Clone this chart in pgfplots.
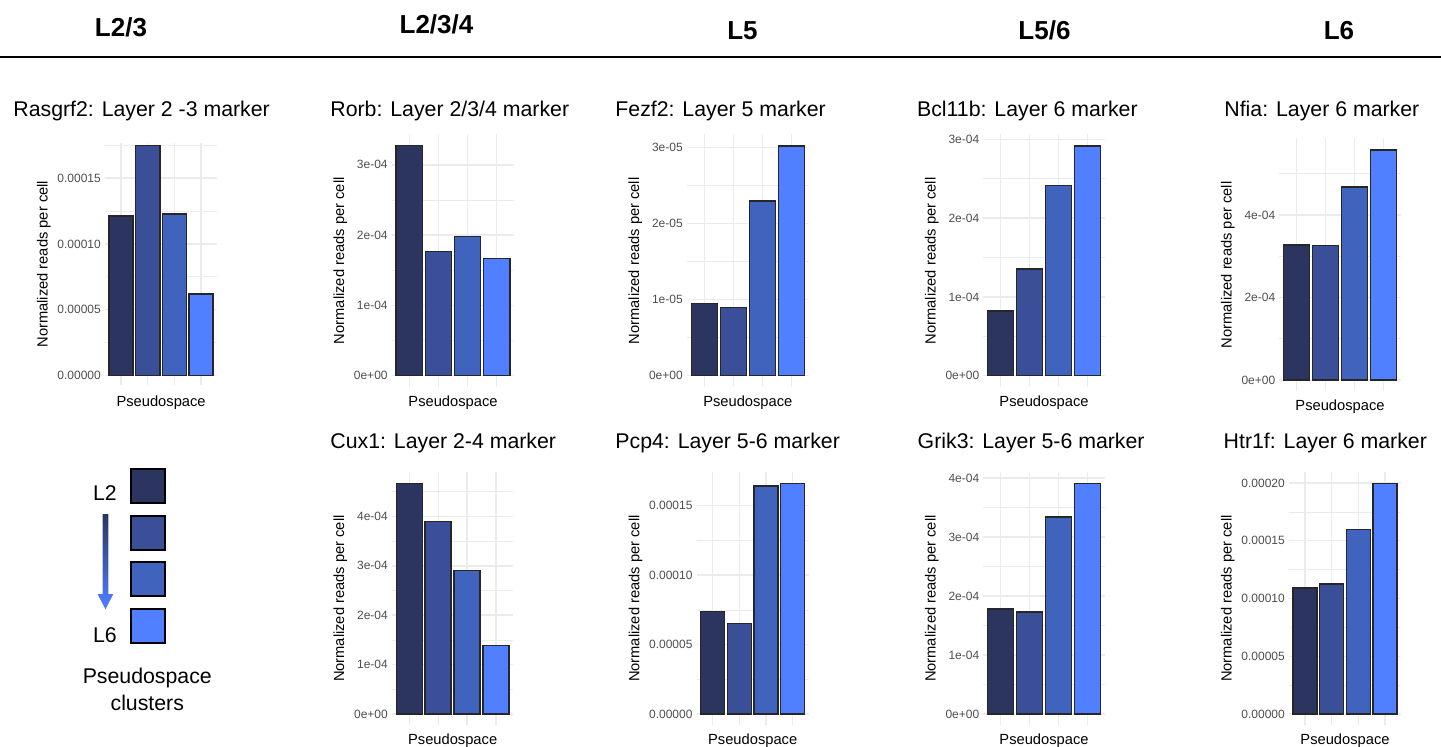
\documentclass[border=0pt]{standalone}
\usepackage{pgfplots}
\pgfplotsset{compat=1.18}
\usepackage{fontspec}
\setmainfont{Liberation Sans}
\definecolor{c1}{HTML}{2C3460}
\definecolor{c2}{HTML}{3B4F99}
\definecolor{c3}{HTML}{4064BE}
\definecolor{c4}{HTML}{5080FF}
\definecolor{tickgray}{HTML}{4D4D4D}
\definecolor{gridc}{HTML}{EBEBEB}
\newcommand{\ttlfont}{\fontsize{10.65}{12}\selectfont}
\newcommand{\hdrfont}{\fontsize{13}{15}\selectfont\bfseries}
\pgfplotsset{
 panel/.style={
   scale only axis, anchor=south west, xmin=0.4, xmax=4.6,
   axis line style={draw=none}, tick style={draw=none},
   xtick={1,2,3,4}, xticklabels={},
   xmajorgrids, ymajorgrids, yminorgrids,
   major grid style={draw=gridc, line width=0.7pt},
   minor grid style={draw=gridc, line width=0.35pt},
   scaled y ticks=false,
   yticklabel style={font=\fontsize{6}{7}\selectfont, text=tickgray, inner sep=0pt, xshift=-1.9pt},
   xlabel={Pseudospace}, ylabel={Normalized reads per cell},
   label style={font=\fontsize{7.35}{8.5}\selectfont},
   xlabel style={at={(axis description cs:0.5,0)}, anchor=base, inner sep=0pt, yshift=#1},
   ylabel style={at={(ticklabel cs:0.5,3.2pt)}, anchor=south, inner sep=0pt},
 },
 gbar/.style={ybar, bar width=0.9, bar shift=0pt, draw=black!85, line width=0.75pt, fill=#1},
 sq/.style={only marks, mark=square*, mark size=8.5pt, mark options={draw=black, line width=1pt, fill=#1}},
}
\begin{document}
\begin{tikzpicture}
\useasboundingbox (0,0) rectangle (720.5pt,-373.5pt);
% overlay in pixel coordinates
\begin{axis}[at={(0pt,-373.5pt)}, anchor=south west, scale only axis, width=720.5pt, height=373.5pt,
  xmin=0, xmax=1441, ymin=0, ymax=747, y dir=reverse, hide axis, clip=false]
\draw[line width=1pt] (axis cs:0,57) -- (axis cs:1441,57);
\node[anchor=base, font=\hdrfont] at (axis cs:121,36.3) {L2/3};
\node[anchor=base, font=\hdrfont] at (axis cs:436.5,33.8) {L2/3/4};
\node[anchor=base, font=\hdrfont] at (axis cs:742.5,39.3) {L5};
\node[anchor=base, font=\hdrfont] at (axis cs:1044.5,39.3) {L5/6};
\node[anchor=base, font=\hdrfont] at (axis cs:1339,39.3) {L6};
\begin{scope}[every node/.style={anchor=base west, font=\ttlfont, inner sep=0pt}]
\node at (axis cs:13,116.7) {Rasgrf2: Layer 2 -3 marker};
\node at (axis cs:330,116.7) {Rorb: Layer 2/3/4 marker};
\node at (axis cs:615,116.3) {Fezf2: Layer 5 marker};
\node at (axis cs:916.7,116.7) {Bcl11b: Layer 6 marker};
\node at (axis cs:1224,116.3) {Nfia: Layer 6 marker};
\node at (axis cs:330,448.3) {Cux1: Layer 2-4 marker};
\node at (axis cs:615,448.3) {Pcp4: Layer 5-6 marker};
\node at (axis cs:917.3,448.3) {Grik3: Layer 5-6 marker};
\node at (axis cs:1223.3,448.3) {Htr1f: Layer 6 marker};
\end{scope}
% legend
\shade[top color=c1, bottom color=c4] (axis cs:102.7,514) -- (axis cs:108.3,514) -- (axis cs:108.3,594)
  -- (axis cs:113.3,594) -- (axis cs:105.5,609.3) -- (axis cs:97.5,594) -- (axis cs:102.7,594) -- cycle;
\addplot[sq=c1] coordinates {(147.5,485.8)};
\addplot[sq=c2] coordinates {(147.5,532.5)};
\addplot[sq=c3] coordinates {(147.5,579.2)};
\addplot[sq=c4] coordinates {(147.5,626.1)};
\node[font=\ttlfont] at (axis cs:105,493.3) {L2};
\node[font=\ttlfont] at (axis cs:105,635) {L6};
\node[font=\ttlfont] at (axis cs:147.3,678.3) {Pseudospace};
\node[font=\ttlfont] at (axis cs:147.3,703.3) {clusters};
\end{axis}
% Rasgrf2
\begin{axis}[panel=-11pt, at={(52.5pt,-192.5pt)}, width=56.1pt, height=120.85pt, ymin=-7.06e-6, ymax=1.763e-4,
  ytick={0,5e-5,1e-4,1.5e-4}, yticklabels={0.00000,0.00005,0.00010,0.00015},
  minor ytick={2.5e-5,7.5e-5,1.25e-4,1.75e-4}]
\addplot[gbar=c1] coordinates {(1,1.212e-4)};
\addplot[gbar=c2] coordinates {(2,1.745e-4)};
\addplot[gbar=c3] coordinates {(3,1.227e-4)};
\addplot[gbar=c4] coordinates {(4,0.620e-4)};
\end{axis}
% Rorb
\begin{axis}[panel=-9.9pt, at={(195.9pt,-193.6pt)}, width=61.2pt, height=126.45pt, ymin=-1.635e-5, ymax=3.434e-4,
  ytick={0,1e-4,2e-4,3e-4}, yticklabels={0e+00,1e-04,2e-04,3e-04},
  minor ytick={0.5e-4,1.5e-4,2.5e-4}]
\addplot[gbar=c1] coordinates {(1,3.272e-4)};
\addplot[gbar=c2] coordinates {(2,1.770e-4)};
\addplot[gbar=c3] coordinates {(3,1.977e-4)};
\addplot[gbar=c4] coordinates {(4,1.670e-4)};
\end{axis}
% Fezf2
\begin{axis}[panel=-9.9pt, at={(343.45pt,-193.6pt)}, width=60.9pt, height=126.35pt, ymin=-1.509e-6, ymax=3.169e-5,
  ytick={0,1e-5,2e-5,3e-5}, yticklabels={0e+00,1e-05,2e-05,3e-05},
  minor ytick={0.5e-5,1.5e-5,2.5e-5}]
\addplot[gbar=c1] coordinates {(1,0.951e-5)};
\addplot[gbar=c2] coordinates {(2,0.894e-5)};
\addplot[gbar=c3] coordinates {(3,2.296e-5)};
\addplot[gbar=c4] coordinates {(4,3.018e-5)};
\end{axis}
% Bcl11b
\begin{axis}[panel=-9.9pt, at={(491.7pt,-193.6pt)}, width=60.6pt, height=126.35pt, ymin=-1.458e-5, ymax=3.061e-4,
  ytick={0,1e-4,2e-4,3e-4}, yticklabels={0e+00,1e-04,2e-04,3e-04},
  minor ytick={0.5e-4,1.5e-4,2.5e-4}]
\addplot[gbar=c1] coordinates {(1,0.821e-4)};
\addplot[gbar=c2] coordinates {(2,1.354e-4)};
\addplot[gbar=c3] coordinates {(3,2.416e-4)};
\addplot[gbar=c4] coordinates {(4,2.915e-4)};
\end{axis}
% Nfia
\begin{axis}[panel=-9.4pt, at={(639.7pt,-195.75pt)}, width=60.6pt, height=126.5pt, ymin=-2.788e-5, ymax=5.855e-4,
  ytick={0,2e-4,4e-4}, yticklabels={0e+00,2e-04,4e-04},
  minor ytick={1e-4,3e-4,5e-4}]
\addplot[gbar=c1] coordinates {(1,3.273e-4)};
\addplot[gbar=c2] coordinates {(2,3.265e-4)};
\addplot[gbar=c3] coordinates {(3,4.679e-4)};
\addplot[gbar=c4] coordinates {(4,5.576e-4)};
\end{axis}
% Cux1
\begin{axis}[panel=-9.3pt, at={(196pt,-362.75pt)}, width=60.65pt, height=126.85pt, ymin=-2.335e-5, ymax=4.9035e-4,
  ytick={0,1e-4,2e-4,3e-4,4e-4}, yticklabels={0e+00,1e-04,2e-04,3e-04,4e-04},
  minor ytick={0.5e-4,1.5e-4,2.5e-4,3.5e-4,4.5e-4}]
\addplot[gbar=c1] coordinates {(1,4.670e-4)};
\addplot[gbar=c2] coordinates {(2,3.901e-4)};
\addplot[gbar=c3] coordinates {(3,2.909e-4)};
\addplot[gbar=c4] coordinates {(4,1.383e-4)};
\end{axis}
% Pcp4
\begin{axis}[panel=-9.3pt, at={(348.35pt,-362.75pt)}, width=56pt, height=126.85pt, ymin=-8.31e-6, ymax=1.745e-4,
  ytick={0,5e-5,1e-4,1.5e-4}, yticklabels={0.00000,0.00005,0.00010,0.00015},
  minor ytick={2.5e-5,7.5e-5,1.25e-4}]
\addplot[gbar=c1] coordinates {(1,0.737e-4)};
\addplot[gbar=c2] coordinates {(2,0.653e-4)};
\addplot[gbar=c3] coordinates {(3,1.643e-4)};
\addplot[gbar=c4] coordinates {(4,1.662e-4)};
\end{axis}
% Grik3
\begin{axis}[panel=-9.3pt, at={(491.7pt,-362.75pt)}, width=60.6pt, height=126.85pt, ymin=-1.955e-5, ymax=4.1055e-4,
  ytick={0,1e-4,2e-4,3e-4,4e-4}, yticklabels={0e+00,1e-04,2e-04,3e-04,4e-04},
  minor ytick={0.5e-4,1.5e-4,2.5e-4,3.5e-4}]
\addplot[gbar=c1] coordinates {(1,1.780e-4)};
\addplot[gbar=c2] coordinates {(2,1.729e-4)};
\addplot[gbar=c3] coordinates {(3,3.339e-4)};
\addplot[gbar=c4] coordinates {(4,3.910e-4)};
\end{axis}
% Htr1f
\begin{axis}[panel=-9.3pt, at={(644.5pt,-362.75pt)}, width=56pt, height=126.85pt, ymin=-9.985e-6, ymax=2.097e-4,
  ytick={0,5e-5,1e-4,1.5e-4,2e-4}, yticklabels={0.00000,0.00005,0.00010,0.00015,0.00020},
  minor ytick={2.5e-5,7.5e-5,1.25e-4,1.75e-4}]
\addplot[gbar=c1] coordinates {(1,1.091e-4)};
\addplot[gbar=c2] coordinates {(2,1.126e-4)};
\addplot[gbar=c3] coordinates {(3,1.599e-4)};
\addplot[gbar=c4] coordinates {(4,1.997e-4)};
\end{axis}
\end{tikzpicture}
\end{document}
